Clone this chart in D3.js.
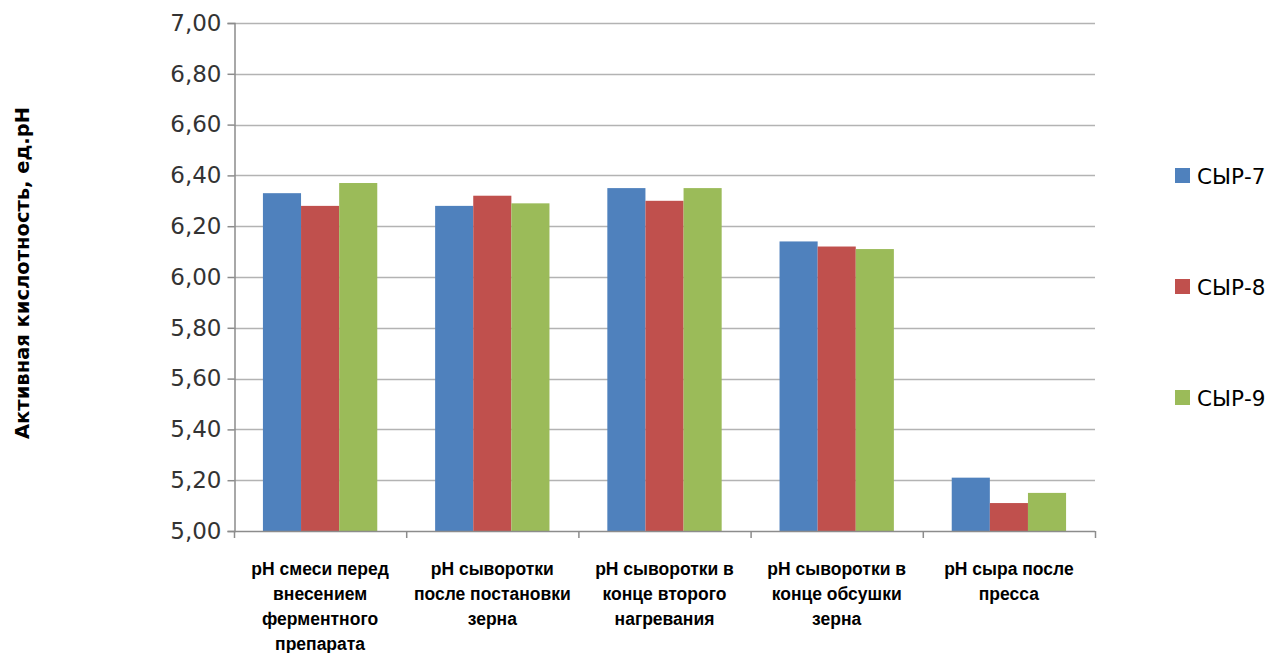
<!DOCTYPE html>
<html>
<head>
<meta charset="utf-8">
<script src="https://cdn.jsdelivr.net/npm/d3@7"></script>
<style>
  html, body { margin: 0; padding: 0; background: #fff; }
  svg { display: block; }
</style>
</head>
<body>
<svg id="chart" width="1267" height="653"></svg>
<script>
// Stage labels (each split into the lines shown under the axis)
const categories = [
  ["рН смеси перед", "внесением", "ферментного", "препарата"],
  ["рН сыворотки", "после постановки", "зерна"],
  ["рН сыворотки в", "конце второго", "нагревания"],
  ["рН сыворотки в", "конце обсушки", "зерна"],
  ["рН сыра после", "пресса"]
];
const seriesNames = ["СЫР-7", "СЫР-8", "СЫР-9"];
const syr7 = [6.33, 6.28, 6.35, 6.14, 5.21];
const syr8 = [6.28, 6.32, 6.30, 6.12, 5.11];
const syr9 = [6.37, 6.29, 6.35, 6.11, 5.15];
const yTicks = [5.0, 5.2, 5.4, 5.6, 5.8, 6.0, 6.2, 6.4, 6.6, 6.8, 7.0];
const yTitle = "Активная кислотность, ед.рН";

const colors = ["#4F81BD", "#C0504D", "#9BBB59"];
const seriesValues = [syr7, syr8, syr9];

const svg = d3.select("#chart");
const plotLeft = 234, plotRight = 1095, plotTop = 23, plotBottom = 531;

const x0 = d3.scaleBand().domain(d3.range(categories.length)).range([plotLeft, plotRight]).padding(0);
const groupW = x0.bandwidth() * 0.664;
const x1 = d3.scaleBand().domain(d3.range(seriesNames.length))
  .range([(x0.bandwidth() - groupW) / 2, (x0.bandwidth() + groupW) / 2]).padding(0);
const y = d3.scaleLinear().domain([5, 7]).range([plotBottom, plotTop]);

// horizontal gridlines
svg.append("g").selectAll("line").data(yTicks.slice(1)).join("line")
  .attr("x1", plotLeft).attr("x2", plotRight)
  .attr("y1", d => Math.round(y(d)) + 0.5).attr("y2", d => Math.round(y(d)) + 0.5)
  .attr("stroke", "#b3b3b3").attr("stroke-width", 1.5);

// bars
const groups = svg.append("g").selectAll("g").data(categories).join("g")
  .attr("transform", (d, i) => `translate(${x0(i)},0)`);
groups.selectAll("rect")
  .data((d, i) => seriesValues.map((s, k) => ({ k, v: s[i] })))
  .join("rect")
  .attr("x", d => x1(d.k))
  .attr("width", x1.bandwidth())
  .attr("y", d => y(d.v))
  .attr("height", d => y(5) - y(d.v))
  .attr("fill", d => colors[d.k]);

// y axis
const yAxis = d3.axisLeft(y).tickValues(yTicks)
  .tickFormat(d => d3.format(".2f")(d).replace(".", ","))
  .tickSize(7).tickPadding(6);
const gy = svg.append("g").attr("transform", `translate(${plotLeft + 0.5},0)`).call(yAxis);
gy.selectAll("path, line").attr("stroke", "#8c8c8c").attr("stroke-width", 1.5);
gy.selectAll("text").attr("font-family", "DejaVu Sans").attr("font-size", 23).attr("fill", "#333");

// x axis baseline with ticks at category boundaries
const gx = svg.append("g");
gx.append("line").attr("x1", plotLeft).attr("x2", plotRight)
  .attr("y1", plotBottom + 0.5).attr("y2", plotBottom + 0.5)
  .attr("stroke", "#8c8c8c").attr("stroke-width", 1.5);
gx.selectAll("line.tk").data(d3.range(categories.length + 1)).join("line")
  .attr("class", "tk")
  .attr("x1", i => (i < categories.length ? x0(i) : plotRight) + 0.5)
  .attr("x2", i => (i < categories.length ? x0(i) : plotRight) + 0.5)
  .attr("y1", plotBottom).attr("y2", plotBottom + 7)
  .attr("stroke", "#8c8c8c").attr("stroke-width", 1.5);

// category labels
const lab = svg.append("g").selectAll("text").data(categories).join("text")
  .attr("text-anchor", "middle")
  .attr("font-family", "Liberation Sans, Arial, sans-serif")
  .attr("font-weight", "bold").attr("font-size", 17.5).attr("fill", "#000");
lab.selectAll("tspan").data((d, i) => d.map(t => ({ t, i }))).join("tspan")
  .attr("x", d => x0(d.i) + x0.bandwidth() / 2)
  .attr("y", (d, j) => 575 + j * 25)
  .text(d => d.t);

// y axis title
svg.append("text")
  .attr("transform", "translate(29,273) rotate(-90)")
  .attr("text-anchor", "middle")
  .attr("font-family", "DejaVu Sans")
  .attr("font-weight", "bold").attr("font-size", 19.5).attr("fill", "#000")
  .text(yTitle);

// legend
const legY = [176, 287, 398];
const leg = svg.append("g").selectAll("g").data(seriesNames).join("g")
  .attr("transform", (d, i) => `translate(1175,${legY[i]})`);
leg.append("rect").attr("x", 0).attr("y", -8).attr("width", 15).attr("height", 15)
  .attr("fill", (d, i) => colors[i]);
leg.append("text").attr("x", 22).attr("y", 8)
  .attr("font-family", "DejaVu Sans").attr("font-size", 21.5).attr("fill", "#000")
  .text(d => d);
</script>
</body>
</html>
